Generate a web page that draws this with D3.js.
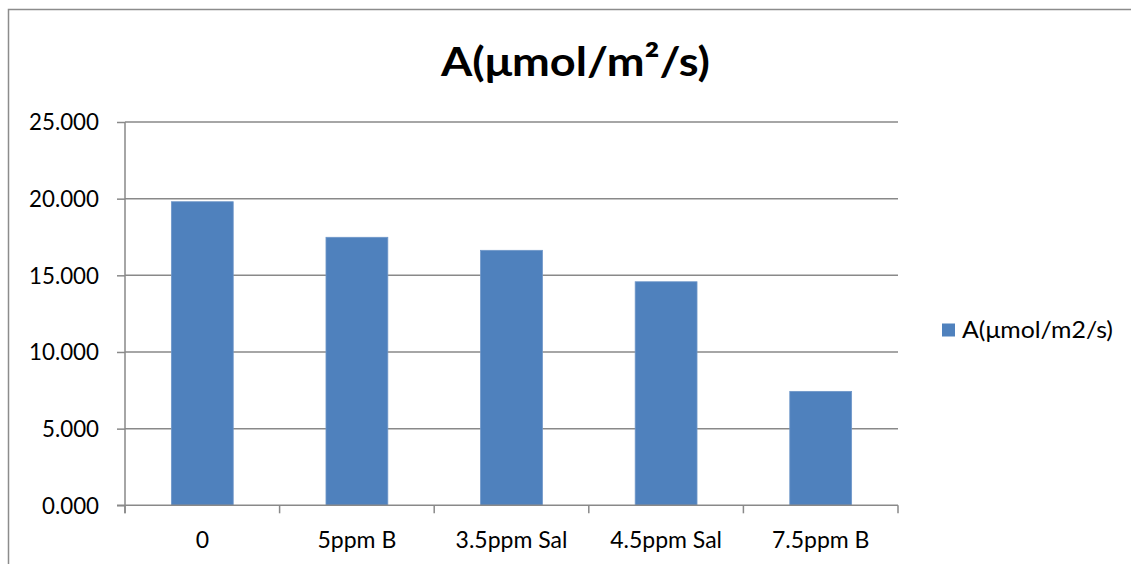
<!DOCTYPE html>
<html>
<head>
<meta charset="utf-8">
<script src="https://cdn.jsdelivr.net/npm/d3@7"></script>
<style>
  html, body { margin: 0; padding: 0; background: #fff; }
  svg { display: block; font-family: Lato, "Open Sans", sans-serif; }
</style>
</head>
<body>
<svg id="chart" width="1131" height="564"></svg>
<script>
// Net photosynthesis rate per treatment
const categories = ["0", "5ppm B", "3.5ppm Sal", "4.5ppm Sal", "7.5ppm B"];
const values = [19.80, 17.48, 16.63, 14.58, 7.43];
const yTicks = [0, 5, 10, 15, 20, 25];
const chartTitle = "A(μmol/m²/s)";
const seriesName = "A(μmol/m2/s)";

const svg = d3.select("#chart");
const gridColor = "#898989";
const barColor = "#4F81BD";

// outer chart frame (top and left edges visible)
svg.append("path")
  .attr("d", "M8.5,564 L8.5,9.5 L1131,9.5")
  .attr("fill", "none")
  .attr("stroke", "#8c8c8c")
  .attr("stroke-width", 1.5);

const plot = { left: 125, right: 898, top: 122, bottom: 505.3 };

const x = d3.scaleBand()
  .domain(categories)
  .range([plot.left, plot.right])
  .paddingInner(0.6)
  .paddingOuter(0.3);

const y = d3.scaleLinear()
  .domain([0, 25])
  .range([plot.bottom, plot.top]);

// horizontal gridlines
svg.append("g")
  .selectAll("line")
  .data(yTicks.filter(d => d > 0))
  .join("line")
  .attr("x1", plot.left)
  .attr("x2", plot.right)
  .attr("y1", d => y(d))
  .attr("y2", d => y(d))
  .attr("stroke", gridColor)
  .attr("stroke-width", 1.5);

// bars
svg.append("g")
  .selectAll("rect")
  .data(values)
  .join("rect")
  .attr("x", (d, i) => x(categories[i]))
  .attr("y", d => y(d))
  .attr("width", x.bandwidth())
  .attr("height", d => y(0) - y(d))
  .attr("fill", barColor)
  .attr("stroke", "#6f97c9")
  .attr("stroke-width", 0.8);

// y axis
const yAxis = d3.axisLeft(y)
  .tickValues(yTicks)
  .tickFormat(d3.format(".3f"))
  .tickSize(8)
  .tickPadding(18);
const gy = svg.append("g")
  .attr("transform", `translate(${plot.left},0)`)
  .call(yAxis);
gy.select(".domain").attr("stroke", gridColor).attr("stroke-width", 1.5)
  .attr("d", `M0,${plot.top}V${plot.bottom + 8}`);
gy.selectAll(".tick line").attr("stroke", gridColor).attr("stroke-width", 1.5);
gy.selectAll(".tick text")
  .attr("fill", "#000")
  .attr("font-size", 22.3)
  .attr("font-family", "Lato, 'Open Sans', sans-serif")
  .attr("dy", "0.35em");

// x axis with ticks at band boundaries
const gx = svg.append("g")
  .attr("transform", `translate(0,${plot.bottom})`);
gx.append("line")
  .attr("x1", plot.left - 8)
  .attr("x2", plot.right)
  .attr("stroke", gridColor)
  .attr("stroke-width", 1.5);
const boundaries = d3.range(categories.length + 1).map(i => plot.left + i * (plot.right - plot.left) / categories.length);
gx.selectAll(".btick")
  .data(boundaries)
  .join("line")
  .attr("class", "btick")
  .attr("x1", d => d).attr("x2", d => d)
  .attr("y1", 0).attr("y2", 8)
  .attr("stroke", gridColor)
  .attr("stroke-width", 1.5);
gx.selectAll("text")
  .data(categories)
  .join("text")
  .attr("x", d => x(d) + x.bandwidth() / 2)
  .attr("y", 43)
  .attr("text-anchor", "middle")
  .attr("font-size", 23)
  .attr("fill", "#000")
  .text(d => d);

// title
svg.append("text")
  .attr("x", 575.5)
  .attr("y", 76)
  .attr("text-anchor", "middle")
  .attr("font-size", 41)
  .attr("font-weight", "bold")
  .attr("fill", "#000")
  .attr("textLength", 269)
  .attr("lengthAdjust", "spacingAndGlyphs")
  .text(chartTitle);

// legend
const legend = svg.append("g").attr("transform", "translate(942,323.5)");
legend.append("rect")
  .attr("width", 13).attr("height", 13)
  .attr("fill", barColor);
legend.append("text")
  .attr("x", 20)
  .attr("y", 14)
  .attr("font-size", 23)
  .attr("fill", "#000")
  .attr("textLength", 151)
  .attr("lengthAdjust", "spacingAndGlyphs")
  .text(seriesName);
</script>
</body>
</html>
